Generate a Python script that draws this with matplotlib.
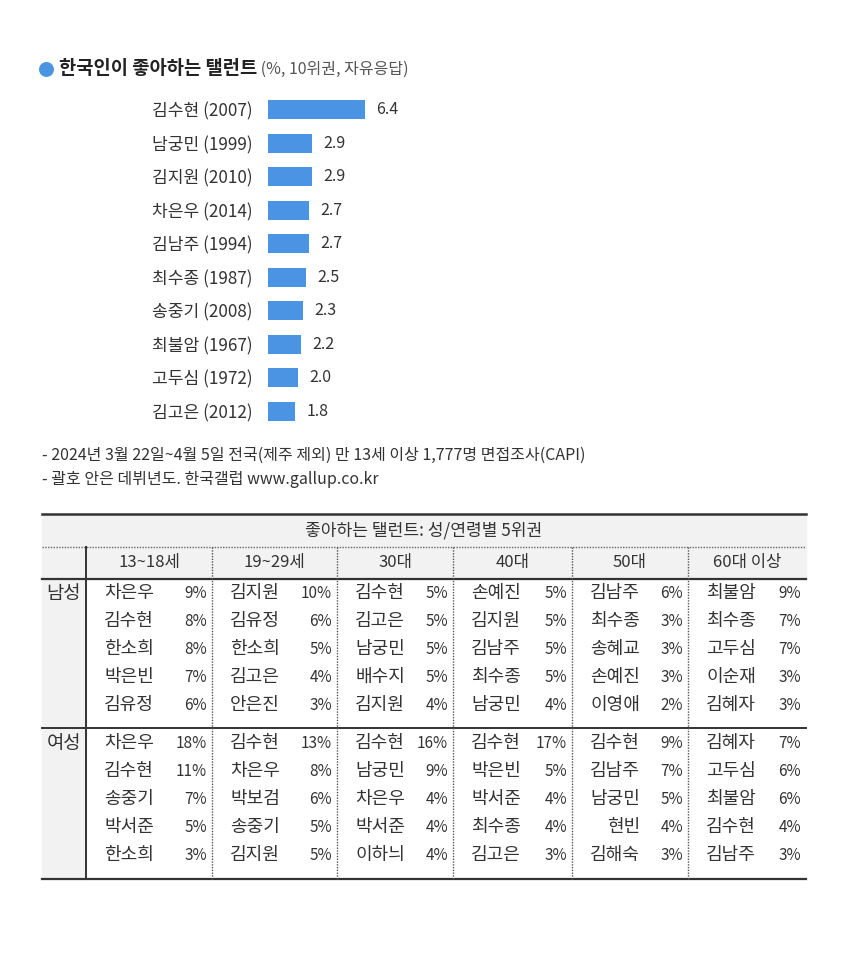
import matplotlib
matplotlib.use("Agg")
import matplotlib.pyplot as plt
from matplotlib.patches import Rectangle

plt.rcParams['font.family'] = ['Noto Sans CJK KR', 'DejaVu Sans']

# top 10 talents (name, debut year, %)
names = ['김수현', '남궁민', '김지원', '차은우', '김남주', '최수종', '송중기', '최불암', '고두심', '김고은']
years = [2007, 1999, 2010, 2014, 1994, 1987, 2008, 1967, 1972, 2012]
values = [6.4, 2.9, 2.9, 2.7, 2.7, 2.5, 2.3, 2.2, 2.0, 1.8]

# table: by gender / age, top 5
age_groups = ['13~18세', '19~29세', '30대', '40대', '50대', '60대 이상']
male_names = [
    ['차은우', '김수현', '한소희', '박은빈', '김유정'],
    ['김지원', '김유정', '한소희', '김고은', '안은진'],
    ['김수현', '김고은', '남궁민', '배수지', '김지원'],
    ['손예진', '김지원', '김남주', '최수종', '남궁민'],
    ['김남주', '최수종', '송혜교', '손예진', '이영애'],
    ['최불암', '최수종', '고두심', '이순재', '김혜자'],
]
male_pcts = [
    [9, 8, 8, 7, 6],
    [10, 6, 5, 4, 3],
    [5, 5, 5, 5, 4],
    [5, 5, 5, 5, 4],
    [6, 3, 3, 3, 2],
    [9, 7, 7, 3, 3],
]
female_names = [
    ['차은우', '김수현', '송중기', '박서준', '한소희'],
    ['김수현', '차은우', '박보검', '송중기', '김지원'],
    ['김수현', '남궁민', '차은우', '박서준', '이하늬'],
    ['김수현', '박은빈', '박서준', '최수종', '김고은'],
    ['김수현', '김남주', '남궁민', '현빈', '김해숙'],
    ['김혜자', '고두심', '최불암', '김수현', '김남주'],
]
female_pcts = [
    [18, 11, 7, 5, 3],
    [13, 8, 6, 5, 5],
    [16, 9, 4, 4, 4],
    [17, 5, 4, 4, 3],
    [9, 7, 5, 4, 3],
    [7, 6, 6, 4, 3],
]

W, H = 850, 963
fig = plt.figure(figsize=(W / 100, H / 100), dpi=100)
fig.patch.set_facecolor('white')

# full-figure axes in pixel coordinates for text and table
ax = fig.add_axes([0, 0, 1, 1])
ax.set_xlim(0, W)
ax.set_ylim(H, 0)
ax.axis('off')

txt = '#333333'
blue = '#4a94e3'

# title
ax.scatter([46], [69], s=95, color=blue, zorder=3)
t1 = ax.text(59, 69, '한국인이 좋아하는 탤런트', fontsize=13.5, fontweight='bold',
             color='#222222', va='center', ha='left')
ax.annotate(' (%, 10위권, 자유응답)', xy=(1, 0.5), xycoords=t1, va='center', ha='left',
            fontsize=11.5, color='#555555')

# bar chart
bx0, bx1 = 268, 268 + 15.2 * 7
by0, by1 = 93, 428
bax = fig.add_axes([bx0 / W, (H - by1) / H, (bx1 - bx0) / W, (by1 - by0) / H])
pos = list(range(len(names)))
bax.barh(pos, values, height=0.57, color=blue)
bax.set_xlim(0, 7)
bax.set_ylim(len(names) - 0.5, -0.5)
bax.set_yticks(pos)
bax.set_yticklabels([f'{n} ({y})' for n, y in zip(names, years)], fontsize=12.3, color=txt)
bax.tick_params(axis='y', length=0, pad=11)
bax.set_xticks([])
for s in bax.spines.values():
    s.set_visible(False)
for p, v in zip(pos, values):
    bax.annotate(f'{v:.1f}', xy=(v, p), xytext=(8, 0), textcoords='offset points',
                 va='center', ha='left', fontsize=11.5, color=txt)

# footnotes
ax.text(42, 455, '- 2024년 3월 22일~4월 5일 전국(제주 제외) 만 13세 이상 1,777명 면접조사(CAPI)',
        fontsize=11.5, color=txt, va='center')
ax.text(42, 480, '- 괄호 안은 데뷔년도. 한국갤럽 www.gallup.co.kr',
        fontsize=11.5, color=txt, va='center')

# table
L, R = 42, 806
col_x = [86, 212, 337, 453, 572, 688, 806]
y_top, y_dot, y_head, y_mid, y_bot = 514, 547, 579, 728, 879
grey = '#f2f2f2'
line = '#333333'

ax.add_patch(Rectangle((L, y_top), R - L, y_head - y_top, color=grey, zorder=0))
ax.add_patch(Rectangle((L, y_head), col_x[0] - L, y_bot - y_head, color=grey, zorder=0))

ax.plot([L, R], [y_top, y_top], color=line, lw=1.8)
ax.plot([L, R], [y_dot, y_dot], color='#666666', lw=1, ls=(0, (1, 1)))
ax.plot([L, R], [y_head, y_head], color=line, lw=1.6)
ax.plot([L, R], [y_mid, y_mid], color=line, lw=1.4)
ax.plot([L, R], [y_bot, y_bot], color=line, lw=1.6)
ax.plot([col_x[0], col_x[0]], [y_dot, y_bot], color=line, lw=1.4)
for x in col_x[1:-1]:
    ax.plot([x, x], [y_dot, y_bot], color='#555555', lw=1, ls=(0, (1, 1)))

ax.text((L + R) / 2, (y_top + y_dot) / 2, '좋아하는 탤런트: 성/연령별 5위권',
        fontsize=12.3, color=txt, ha='center', va='center')
for i, g in enumerate(age_groups):
    ax.text((col_x[i] + col_x[i + 1]) / 2, (y_dot + y_head) / 2, g,
            fontsize=12, color=txt, ha='center', va='center')

row_step = 28
male_y = [593 + k * row_step for k in range(5)]
female_y = [743 + k * row_step for k in range(5)]
ax.text(64, male_y[0], '남성', fontsize=13.5, color=txt, ha='center', va='center')
ax.text(64, female_y[0], '여성', fontsize=13.5, color=txt, ha='center', va='center')

for rows_y, nm, pc in [(male_y, male_names, male_pcts), (female_y, female_names, female_pcts)]:
    for i in range(len(age_groups)):
        for k in range(5):
            ax.text(col_x[i] + 68, rows_y[k], nm[i][k], fontsize=13, color=txt,
                    ha='right', va='center')
            ax.text(col_x[i + 1] - 5, rows_y[k], f'{pc[i][k]}%', fontsize=11, color=txt,
                    ha='right', va='center')

fig.savefig('out.png', dpi=100, facecolor='white')
